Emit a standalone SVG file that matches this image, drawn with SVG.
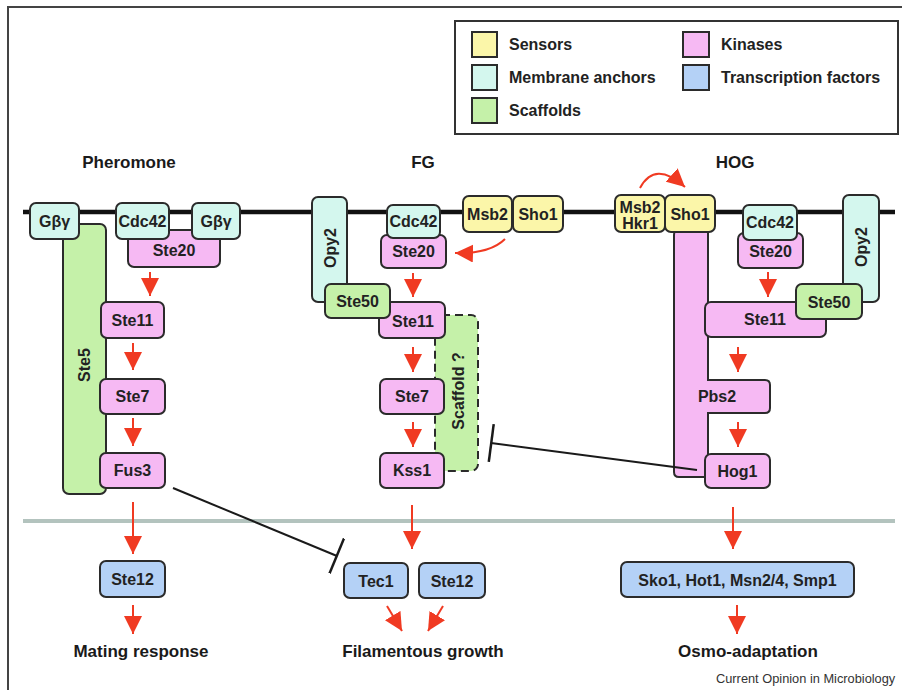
<svg xmlns="http://www.w3.org/2000/svg" width="902" height="690" viewBox="0 0 902 690">
  <style>
    .box{stroke:#2b2b2b;stroke-width:2}
    .sensor{fill:#fbf6a9}
    .anchor{fill:#d4f7ee}
    .scaffold{fill:#c5f1a9}
    .kinase{fill:#f6b9f3}
    .tf{fill:#b4d1f6}
    .dashed{stroke-dasharray:8 5}
    text{font-family:"Liberation Sans",Arial,sans-serif;font-weight:bold;fill:#222}
    .lbl{font-size:16px;text-anchor:middle}
    .leg{font-size:16px}
    .head{font-size:17px;text-anchor:middle;fill:#1a1a1a}
    .rot{font-size:16px;text-anchor:middle;dominant-baseline:central}
    .credit{font-size:12.8px;font-weight:normal;fill:#333}
    .act{stroke:#f03a22;stroke-width:2;fill:none;marker-end:url(#arrowhead)}
    .inh{stroke:#1a1a1a;stroke-width:2;fill:none;marker-end:url(#tbar)}
  </style>
  <defs>
    <marker id="arrowhead" viewBox="0 0 18 18" refX="18" refY="9" markerWidth="18" markerHeight="18" markerUnits="userSpaceOnUse" orient="auto">
      <path d="M0,0 L18,9 L0,18 z" fill="#f03a22"/>
    </marker>
    <marker id="tbar" viewBox="0 0 4 38" refX="2" refY="19" markerWidth="4" markerHeight="38" markerUnits="userSpaceOnUse" orient="auto">
      <rect x="0.5" y="0" width="2.5" height="38" fill="#1a1a1a"/>
    </marker>
  </defs>

  <rect width="902" height="690" fill="#ffffff"/>
  <!-- frame -->
  <path d="M8,690 V7 H902" fill="none" stroke="#444" stroke-width="2"/>

  <!-- legend -->
  <g id="legend">
    <rect x="455" y="21" width="443" height="113" fill="#fff" stroke="#333" stroke-width="2"/>
    <rect class="box sensor" x="472" y="32" width="25" height="25"/>
    <text class="leg" x="509" y="50">Sensors</text>
    <rect class="box anchor" x="472" y="65" width="25" height="25"/>
    <text class="leg" x="509" y="83">Membrane anchors</text>
    <rect class="box scaffold" x="472" y="98" width="25" height="25"/>
    <text class="leg" x="509" y="116">Scaffolds</text>
    <rect class="box kinase" x="683" y="32" width="26" height="25"/>
    <text class="leg" x="721" y="50">Kinases</text>
    <rect class="box tf" x="683" y="65" width="26" height="25"/>
    <text class="leg" x="721" y="83">Transcription factors</text>
  </g>

  <!-- plasma membrane and nuclear envelope -->
  <line x1="23" y1="212" x2="895" y2="212" stroke="#111" stroke-width="4.5"/>
  <line x1="23" y1="521" x2="895" y2="521" stroke="#b3c3be" stroke-width="4"/>

  <!-- pathway titles -->
  <text class="head" x="129" y="168">Pheromone</text>
  <text class="head" x="423" y="168">FG</text>
  <text class="head" x="735" y="168">HOG</text>

  <!-- Pheromone pathway -->
  <g id="ste5"><rect class="box scaffold" x="63" y="224" width="43" height="270" rx="6"/>
    <text class="rot" transform="rotate(-90 84 365)" x="84" y="365">Ste5</text></g>
  <g id="ph-ste20"><rect class="box kinase" x="128" y="230" width="92" height="37" rx="6"/>
    <text class="lbl" x="174" y="256">Ste20</text></g>
  <g id="ph-cdc42"><rect class="box anchor" x="116" y="203" width="53" height="36" rx="6"/>
    <text class="lbl" x="142.5" y="227">Cdc42</text></g>
  <g id="ph-gbg1"><rect class="box anchor" x="30" y="203" width="49" height="36" rx="6"/>
    <text class="lbl" x="54.5" y="227">Gβγ</text></g>
  <g id="ph-gbg2"><rect class="box anchor" x="192" y="203" width="48" height="36" rx="6"/>
    <text class="lbl" x="216" y="227">Gβγ</text></g>
  <g id="ph-ste11"><rect class="box kinase" x="101" y="302" width="63" height="36" rx="6"/>
    <text class="lbl" x="132.5" y="326">Ste11</text></g>
  <g id="ph-ste7"><rect class="box kinase" x="100" y="379" width="65" height="35" rx="6"/>
    <text class="lbl" x="132.5" y="402">Ste7</text></g>
  <g id="fus3"><rect class="box kinase" x="100" y="453" width="65" height="35" rx="6"/>
    <text class="lbl" x="132.5" y="476">Fus3</text></g>
  <g id="ph-ste12"><rect class="box tf" x="100" y="561" width="65" height="36" rx="6"/>
    <text class="lbl" x="132.5" y="585">Ste12</text></g>
  <text class="head" x="141" y="657">Mating response</text>

  <!-- FG pathway -->
  <g id="fg-scaffold"><rect class="box scaffold dashed" x="435" y="315" width="43" height="156" rx="7"/>
    <text class="rot" transform="rotate(-90 458 391)" x="458" y="391">Scaffold ?</text></g>
  <g id="fg-opy2"><rect class="box anchor" x="312" y="197" width="35" height="105" rx="6"/>
    <text class="rot" transform="rotate(-90 330 248)" x="330" y="248">Opy2</text></g>
  <g id="fg-ste20"><rect class="box kinase" x="381" y="235" width="65" height="33" rx="6"/>
    <text class="lbl" x="413.5" y="257">Ste20</text></g>
  <g id="fg-cdc42"><rect class="box anchor" x="387" y="205" width="53" height="33" rx="6"/>
    <text class="lbl" x="413.5" y="227">Cdc42</text></g>
  <g id="fg-ste11"><rect class="box kinase" x="379" y="302" width="66" height="36" rx="6"/>
    <text class="lbl" x="413" y="327">Ste11</text></g>
  <g id="fg-ste50"><rect class="box scaffold" x="325" y="284" width="65" height="34" rx="6"/>
    <text class="lbl" x="357.5" y="307">Ste50</text></g>
  <g id="fg-ste7"><rect class="box kinase" x="380" y="379" width="64" height="35" rx="6"/>
    <text class="lbl" x="412" y="402">Ste7</text></g>
  <g id="kss1"><rect class="box kinase" x="380" y="453" width="64" height="35" rx="6"/>
    <text class="lbl" x="412" y="476">Kss1</text></g>
  <g id="fg-msb2"><rect class="box sensor" x="463" y="196" width="49" height="36" rx="6"/>
    <text class="lbl" x="487.5" y="220">Msb2</text></g>
  <g id="fg-sho1"><rect class="box sensor" x="513" y="196" width="50" height="36" rx="6"/>
    <text class="lbl" x="538" y="220">Sho1</text></g>
  <g id="tec1"><rect class="box tf" x="344" y="563" width="64" height="35" rx="6"/>
    <text class="lbl" x="376" y="587">Tec1</text></g>
  <g id="fg-ste12"><rect class="box tf" x="419" y="563" width="66" height="35" rx="6"/>
    <text class="lbl" x="452" y="587">Ste12</text></g>
  <text class="head" x="423" y="657">Filamentous growth</text>

  <!-- HOG pathway -->
  <g id="pbs2"><path class="box kinase" d="M678,230 H708 V380 H765 Q770,380 770,385 V408 Q770,413 765,413 H708 V477 H679 Q674,477 674,472 V235 Q674,230 678,230 Z"/>
    <text class="lbl" x="717" y="402">Pbs2</text></g>
  <g id="hog-msb2"><rect class="box sensor" x="615" y="195" width="50" height="37" rx="6"/>
    <text class="lbl" x="640" y="213">Msb2</text>
    <text class="lbl" x="640" y="229">Hkr1</text></g>
  <g id="hog-sho1"><rect class="box sensor" x="665" y="195" width="50" height="37" rx="6"/>
    <text class="lbl" x="690" y="220">Sho1</text></g>
  <g id="hog-ste20"><rect class="box kinase" x="738" y="233" width="65" height="35" rx="6"/>
    <text class="lbl" x="770.5" y="257">Ste20</text></g>
  <g id="hog-cdc42"><rect class="box anchor" x="743" y="205" width="54" height="35" rx="6"/>
    <text class="lbl" x="770" y="228">Cdc42</text></g>
  <g id="hog-opy2"><rect class="box anchor" x="843" y="195" width="36" height="107" rx="6"/>
    <text class="rot" transform="rotate(-90 861 247)" x="861" y="247">Opy2</text></g>
  <g id="hog-ste11"><rect class="box kinase" x="705" y="302" width="121" height="35" rx="6"/>
    <text class="lbl" x="765" y="325">Ste11</text></g>
  <g id="hog-ste50"><rect class="box scaffold" x="796" y="284" width="66" height="35" rx="6"/>
    <text class="lbl" x="829" y="308">Ste50</text></g>
  <g id="hog1"><rect class="box kinase" x="705" y="454" width="65" height="34" rx="6"/>
    <text class="lbl" x="737.5" y="477">Hog1</text></g>
  <g id="hog-tfs"><rect class="box tf" x="621" y="562" width="233" height="35" rx="6"/>
    <text class="lbl" x="737.5" y="586">Sko1, Hot1, Msn2/4, Smp1</text></g>
  <text class="head" x="748" y="657">Osmo-adaptation</text>

  <text class="credit" x="716" y="683">Current Opinion in Microbiology</text>

  <!-- connectors -->
  <g id="connectors">
    <!-- pheromone -->
    <path class="act" d="M150,272 V296"/>
    <path class="act" d="M133,343 V370"/>
    <path class="act" d="M133,418 V446"/>
    <path class="act" d="M133,502 V554"/>
    <path class="act" d="M133,605 V634"/>
    <path class="inh" d="M173,488 L337,556"/>
    <!-- filamentous growth -->
    <path class="act" d="M505,239 Q490,254 455,253"/>
    <path class="act" d="M413,273 V297"/>
    <path class="act" d="M413,347 V372"/>
    <path class="act" d="M413,422 V447"/>
    <path class="act" d="M412,505 V549"/>
    <path class="act" d="M387,606 L402,631"/>
    <path class="act" d="M443,606 L428,631"/>
    <!-- HOG -->
    <path class="act" d="M640,188 Q655,160 685,187"/>
    <path class="act" d="M768,272 V297"/>
    <path class="act" d="M738,347 V372"/>
    <path class="act" d="M738,422 V447"/>
    <path class="act" d="M733,507 V549"/>
    <path class="act" d="M737,605 V634"/>
    <path class="inh" d="M697,470 L491,443"/>
  </g>
</svg>
